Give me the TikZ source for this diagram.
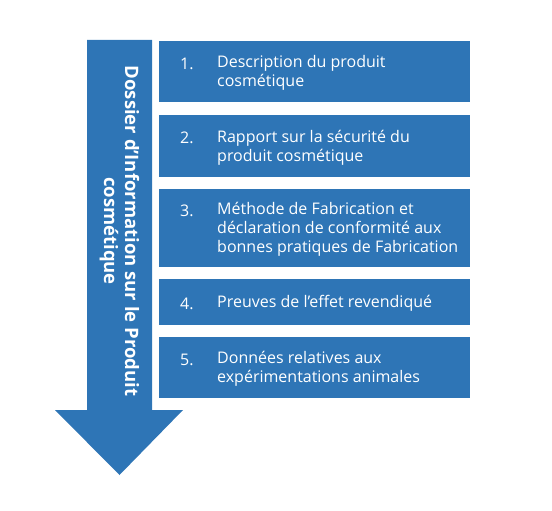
\documentclass[tikz,border=0pt]{standalone}
\usepackage{fontspec}
\setmainfont{Open Sans}
\definecolor{dossierblue}{RGB}{46,117,182}
\tikzset{
  itembox/.style={fill=dossierblue, draw=none, anchor=north west, inner sep=0pt},
  itemnum/.style={text=white, anchor=west, inner sep=0pt, font=\fontsize{16}{19}\selectfont},
  itemtext/.style={text=white, anchor=west, align=left, inner sep=0pt, font=\fontsize{16}{19}\selectfont},
}
\begin{document}
\begin{tikzpicture}[x=1pt,y=-1pt]
\useasboundingbox (0,0) rectangle (552,511);
% the big arrow
\fill[dossierblue] (87,40) -- (152,40) -- (152,410) -- (183,410) -- (119.5,475) -- (55,410) -- (87,410) -- cycle;
\node[rotate=-90, text=white, align=center, inner sep=0pt, font=\bfseries\fontsize{18.5}{21}\selectfont] (title) at (119.5,231) {Dossier d'Information sur le Produit\\cosmétique};
% the five boxes
\foreach \n/\top/\bot/\l/\txt in {1/41/102/2/{Description du produit\\cosmétique},
                                  2/115/177/2/{Rapport sur la sécurité du\\produit cosmétique},
                                  3/189/267/3/{Méthode de Fabrication et\\déclaration de conformité aux\\bonnes pratiques de Fabrication},
                                  4/279/325/1/{Preuves de l'effet revendiqué},
                                  5/337/398/2/{Données relatives aux\\expérimentations animales}}{
  \pgfmathsetmacro\h{\bot-\top}
  \pgfmathsetmacro\mid{(\top+\bot)/2+1.5}
  \pgfmathsetmacro\first{\mid-(\l-1)*9.5}
  \node[itembox, minimum width=311pt, minimum height=\h pt] (box\n) at (159,\top) {};
  \node[itemtext] (txt\n) at (217,\mid) {\txt};
  \node[itemnum] (num\n) at (180,\first) {\n.};
}
\end{tikzpicture}
\end{document}
